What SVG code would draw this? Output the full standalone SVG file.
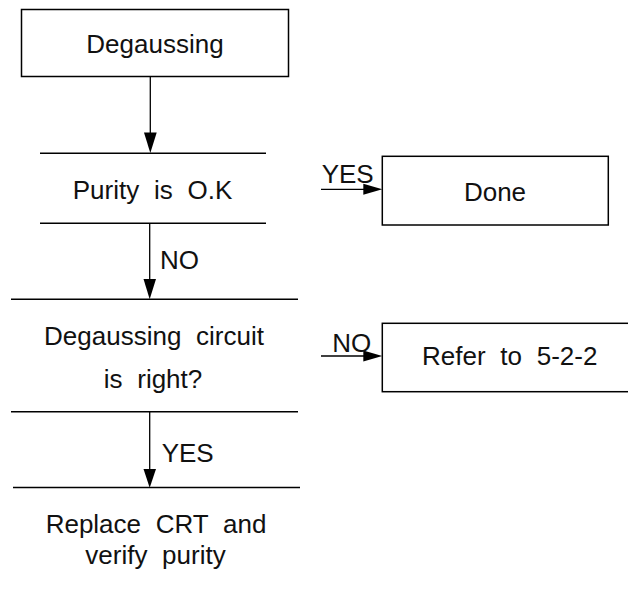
<svg xmlns="http://www.w3.org/2000/svg" width="628" height="595" viewBox="0 0 628 595">
<defs>
<style>
.box{fill:#fff;stroke:#000;stroke-width:1.5}
.rule{stroke:#000;stroke-width:1.5}
.conn{stroke:#000;stroke-width:1.3;fill:none}
.head{fill:#000}
text{font-family:"Liberation Sans",Arial,sans-serif;font-size:26px;fill:#111;word-spacing:7.5px}
.c{text-anchor:middle}
</style>
</defs>
<rect width="628" height="595" fill="#fff"/>
<g id="degaussing">
<rect class="box" x="21.5" y="9.5" width="267" height="67"/>
<text class="c" x="155" y="53">Degaussing</text>
</g>
<g id="purity">
<line class="rule" x1="40" y1="153.3" x2="266" y2="153.3"/>
<line class="rule" x1="40" y1="223.3" x2="266" y2="223.3"/>
<text class="c" x="152.5" y="199.3">Purity is O.K</text>
</g>
<g id="done">
<rect class="box" x="382.3" y="156.3" width="226" height="68.7"/>
<text class="c" x="495" y="201">Done</text>
</g>
<g id="circuit">
<line class="rule" x1="11" y1="299.3" x2="298" y2="299.3"/>
<line class="rule" x1="11" y1="411.7" x2="298" y2="411.7"/>
<text class="c" x="154" y="345">Degaussing circuit</text>
<text class="c" x="153" y="387.7">is right?</text>
</g>
<g id="refer">
<rect class="box" x="382.3" y="323.3" width="250" height="68.4"/>
<text class="c" x="509.7" y="365.3">Refer to 5-2-2</text>
</g>
<g id="replace">
<line class="rule" x1="13" y1="487.5" x2="300" y2="487.5"/>
<text class="c" x="156" y="533.3">Replace CRT and</text>
<text class="c" x="155.5" y="564">verify purity</text>
</g>
<g id="connectors">
<line class="conn" x1="150.3" y1="76" x2="150.3" y2="140"/>
<polygon class="head" points="144,132.5 156.7,132.5 150.3,153"/>
<line class="conn" x1="149.7" y1="223.3" x2="149.7" y2="285"/>
<polygon class="head" points="143.5,279 156,279 149.7,299.3"/>
<text x="160" y="269.3">NO</text>
<line class="conn" x1="149.7" y1="411.7" x2="149.7" y2="475"/>
<polygon class="head" points="143.5,469 156,469 149.7,487.7"/>
<text x="161.7" y="461.7">YES</text>
<line class="conn" x1="321" y1="189.3" x2="370" y2="189.3"/>
<polygon class="head" points="363.3,183.8 382.3,189.3 363.3,194.8"/>
<text x="321.7" y="183.3">YES</text>
<line class="conn" x1="321" y1="356" x2="370" y2="356"/>
<polygon class="head" points="363.3,350.5 382.3,356 363.3,361.5"/>
<text x="332.3" y="351.7">NO</text>
</g>
</svg>
